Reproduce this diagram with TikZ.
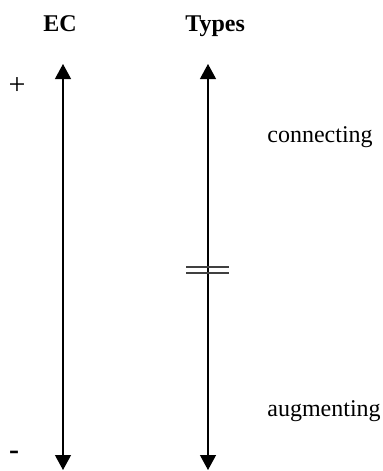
\documentclass[tikz,border=0pt]{standalone}
\usepackage{fontspec}
\setmainfont{Liberation Serif}
\usetikzlibrary{arrows.meta}
\begin{document}
\begin{tikzpicture}[x=0.5pt,y=-0.5pt,font=\fontsize{12}{14}\selectfont,
head/.style={font=\fontsize{12}{14}\selectfont\bfseries,anchor=base west,inner sep=0},
side/.style={anchor=base west,inner sep=0},
sign/.style={font=\fontsize{15}{17}\selectfont,inner sep=0},
axis/.style={{Triangle[width=8pt,length=7.5pt]}-{Triangle[width=8pt,length=7.5pt]},line width=.6pt},
bar/.style={line width=.6pt,draw=black!75}]
\useasboundingbox(0,0)rectangle(382,471);
\node[head](ec)at(43,32){EC};
\node[head](types)at(185,32){Types};
\node[sign](plus)at(17,86){+};
\node[sign](minus)at(14,455){\textbf{-}};
\node[side](conn)at(267,142){connecting};
\node[side](aug)at(267,416){augmenting};
\coordinate(ecTop)at(63,64);\coordinate(ecBot)at(63,470);
\coordinate(tyTop)at(208,64);\coordinate(tyBot)at(208,470);
\coordinate(barL)at(186,267);\coordinate(barR)at(229,267);
\draw[axis](ecTop)--(ecBot);
\draw[axis](tyTop)--(tyBot);
\draw[bar](barL)--(barR);
\draw[bar]([yshift=-3pt]barL)--([yshift=-3pt]barR);
\end{tikzpicture}
\end{document}
